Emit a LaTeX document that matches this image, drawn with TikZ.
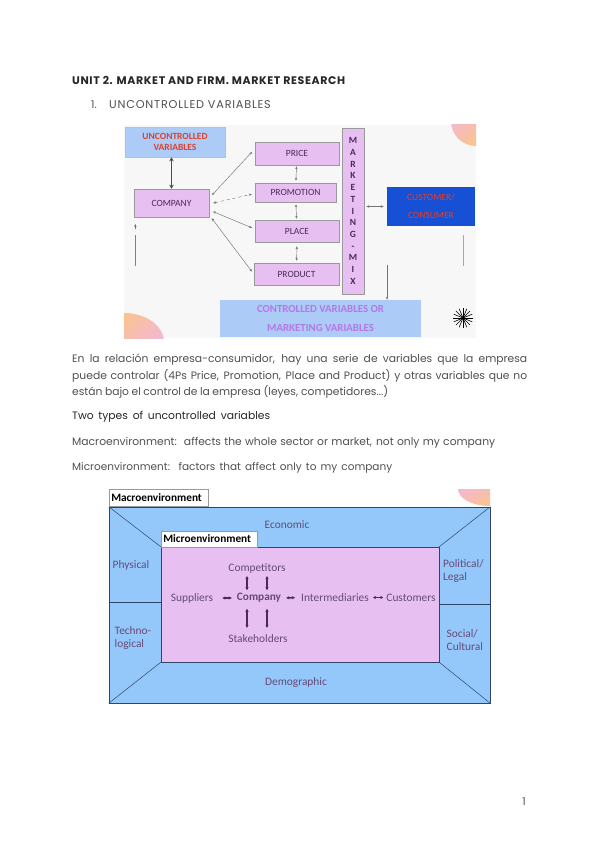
\documentclass[tikz,border=0pt]{standalone}
\usepackage{fontspec}
\setmainfont{Poppins}
\newfontfamily\figfont{Carlito}
\usetikzlibrary{arrows.meta}
\definecolor{txtgray}{HTML}{505050}
\definecolor{boxpink}{HTML}{E7BFF0}
\definecolor{boxblue}{HTML}{ADCBF7}
\definecolor{custblue}{HTML}{1650D4}
\definecolor{macroblue}{HTML}{94C8FB}
\definecolor{edgeblue}{HTML}{2E4468}
\definecolor{inkpurple}{HTML}{4A2A60}
\definecolor{softred}{HTML}{DD4030}
\definecolor{softpurple}{HTML}{B478E4}
\definecolor{blobpink}{HTML}{F4B4E4}
\definecolor{bloborange}{HTML}{FBC878}
\newcommand{\fitline}[2]{\hbox to #1pt{\spaceskip=.05em plus 1fil\relax #2}}

\begin{document}
\begin{tikzpicture}[x=1pt,y=-1pt,>=Stealth,
    bodytext/.style={anchor=west,inner sep=0pt,text=txtgray,font=\fontsize{10.75}{16}\selectfont},
    capstext/.style={bodytext,font=\fontsize{11.3}{14}\selectfont\addfontfeature{LetterSpace=6.8}},
    pbox/.style={draw=black!40,line width=.5pt,fill=boxpink,inner sep=0pt,text=inkpurple,font=\figfont\fontsize{9.5}{11}\selectfont},
    bbox/.style={draw=black!25,line width=.5pt,fill=boxblue,inner sep=0pt,align=center,font=\figfont\bfseries\fontsize{9.5}{11}\selectfont},
    macrotxt/.style={inner sep=0pt,text=inkpurple!85,align=left,font=\figfont\fontsize{11.4}{13}\selectfont},
    tabbox/.style={draw=black!40,line width=.5pt,fill=white,inner sep=0pt,font=\figfont\bfseries\fontsize{11.3}{12}\selectfont},
    thin arrow/.style={<->,black!55,line width=.45pt,>={Stealth[length=3pt,width=2.4pt]}},
    fat arrow/.style={<->,inkpurple,line width=1.5pt,>={Stealth[length=3pt,width=3.2pt]}}]
  \useasboundingbox (0,0) rectangle (600,848);
  \fill[white] (0,0) rectangle (600,848);

  % page text
  \node[bodytext,text=black!85,font=\bfseries\fontsize{11}{14}\selectfont\addfontfeature{LetterSpace=5.6}] (title) at (72,80) {UNIT 2. MARKET AND FIRM. MARKET RESEARCH};
  \node[bodytext] (num) at (91,105) {1.};
  \node[capstext] (sect) at (109,105) {UNCONTROLLED VARIABLES};
  \node[bodytext] (paraone) at (72,360) {\fitline{455}{En la relación empresa-consumidor, hay una serie de variables que la empresa}};
  \node[bodytext] (paratwo) at (72,376) {\fitline{455}{puede controlar (4Ps Price, Promotion, Place and Product) y otras variables que no}};
  \node[bodytext] (parathree) at (72,392) {\fitline{316}{están bajo el control de la empresa (leyes, competidores...)}};
  \node[bodytext,text=black!85] (types) at (72,417) {\fitline{198}{Two types of uncontrolled variables}};
  \node[bodytext] (macrodef) at (72,443) {\fitline{423}{Macroenvironment: affects the whole sector or market, not only my company}};
  \node[bodytext,font=\fontsize{10.5}{16}\selectfont] (microdef) at (72,468) {\fitline{320}{Microenvironment: factors that affect only to my company}};
  \node[bodytext,anchor=center] (pagenum) at (524,802) {1};

  % first figure
  \fill[black!3] (124,125) rectangle (476,338);
  \begin{scope}
    \clip (124,125) rectangle (476,338);
    \shade[top color=blobpink,middle color=blobpink,bottom color=bloborange,shading angle=45] (476,121) circle (25);
    \shade[top color=bloborange,middle color=blobpink,bottom color=blobpink,shading angle=45] (124,342) ellipse (40 and 29);
  \end{scope}
  \node[bbox,minimum width=100pt,minimum height=30pt,text=softred] (uncontrolled) at (175,142) {UNCONTROLLED\\VARIABLES};
  \node[pbox,minimum width=75pt,minimum height=28pt] (company) at (171.5,203) {COMPANY};
  \node[pbox,minimum width=84pt,minimum height=23pt] (price) at (297,153.5) {PRICE};
  \node[pbox,minimum width=81pt,minimum height=19pt] (promotion) at (295.5,192.5) {PROMOTION};
  \node[pbox,minimum width=84pt,minimum height=22pt] (place) at (297,231) {PLACE};
  \node[pbox,minimum width=85pt,minimum height=22pt] (product) at (296.5,274) {PRODUCT};
  \node[pbox,minimum width=22pt,minimum height=166pt,align=center,font=\figfont\bfseries\fontsize{9.5}{11.7}\selectfont] (mix) at (353,211)
    {M\\A\\R\\K\\E\\T\\I\\N\\G\\-\\M\\I\\X};
  \node[bbox,draw=none,fill=custblue,minimum width=88pt,minimum height=39pt,text=softred,font=\figfont\fontsize{9.5}{18}\selectfont] (customer) at (431,206.5) {CUSTOMER/\\CONSUMER};
  \node[bbox,draw=none,minimum width=201pt,minimum height=37pt,text=softpurple,font=\figfont\bfseries\fontsize{10.8}{19}\selectfont] (controlled) at (320.5,318.5) {CONTROLLED VARIABLES OR\\MARKETING VARIABLES};

  \draw[<->,black!70,line width=1.3pt,>={Stealth[length=4pt,width=4.5pt]}] (uncontrolled.south -| company) -- (company);
  \draw[thin arrow,shorten <=4pt,shorten >=4pt] ([yshift=5pt]company.east) -- ([yshift=4.5pt]price.west);
  \draw[thin arrow,dashed,shorten <=4pt,shorten >=3pt] ([yshift=-1pt]company.east) -- ([yshift=-1pt]promotion.west);
  \draw[thin arrow,shorten <=4pt,shorten >=3pt] ([yshift=-7pt]company.east) -- ([yshift=2pt]place.west);
  \draw[thin arrow,shorten <=4pt,shorten >=3pt] ([yshift=-12pt]company.east) -- (product.west);
  \draw[thin arrow,shorten <=1pt,shorten >=2pt] (price) -- (promotion);
  \draw[thin arrow,shorten <=2pt,shorten >=1pt] (promotion) -- (place);
  \draw[thin arrow,shorten <=4pt,shorten >=2pt] (place) -- (product);
  \draw[thin arrow,shorten <=2pt,shorten >=3pt] (mix.east |- customer) -- (customer);

  \coordinate (leftlow) at (135.3,266);
  \coordinate (leftup) at (135.3,235);
  \coordinate (lefttip) at (135.3,224);
  \coordinate (righttop) at (463,235);
  \coordinate (rightlow) at (463,266);
  \coordinate (downtop) at (387,265);
  \draw[black!50,line width=.45pt] (leftlow) -- (leftup);
  \draw[->,black!55,line width=.45pt,>={Stealth[length=3pt,width=2.4pt]}] (135.3,229) -- (lefttip);
  \draw[black!35,line width=.45pt] (righttop) -- (rightlow);
  \draw[->,black!55,line width=.45pt,>={Stealth[length=3pt,width=2.4pt]}] (downtop) -- (controlled.north -| downtop);

  % starburst
  \coordinate (burst) at (463,318);
  \foreach \ang in {0,22.5,...,337.5}
    \draw[black,line width=.6pt] (burst) -- ++(\ang:10);

  % second figure
  \begin{scope}
    \clip (109,489) rectangle (490,507);
    \shade[top color=blobpink,middle color=blobpink,bottom color=bloborange,shading angle=30] (490,489) ellipse (32 and 17);
  \end{scope}
  \node[draw=edgeblue,line width=.6pt,fill=macroblue,minimum width=381pt,minimum height=196pt,inner sep=0pt] (macro) at (299.5,605) {};
  \node[draw=edgeblue,line width=.6pt,fill=boxpink,minimum width=278pt,minimum height=115pt,inner sep=0pt] (micro) at (300,604.5) {};
  \draw[edgeblue,line width=.5pt] (macro.north west) -- (micro.north west);
  \draw[edgeblue,line width=.5pt] (macro.north east) -- (micro.north east);
  \draw[edgeblue,line width=.5pt] (macro.south west) -- (micro.south west);
  \draw[edgeblue,line width=.5pt] (macro.south east) -- (micro.south east);
  \draw[edgeblue,line width=.5pt] (macro.west |- 0,602) -- (micro.west |- 0,602);
  \draw[edgeblue,line width=.5pt] (micro.east |- 0,604) -- (macro.east |- 0,604);
  \node[tabbox,anchor=south west,minimum width=99pt,minimum height=17pt,text width=95pt,align=left] (macrotab) at (109,506.5) {Macroenvironment};
  \node[tabbox,anchor=south west,minimum width=96pt,minimum height=16pt,text width=92pt,align=left] (microtab) at (161,547) {Microenvironment};

  \node[macrotxt] (economic) at (287,525) {Economic};
  \node[macrotxt] (demographic) at (296,683) {Demographic};
  \node[macrotxt] (physical) at (131,565) {Physical};
  \node[macrotxt,anchor=west] (techno) at (114.5,638.5) {Techno-\\logical};
  \node[macrotxt,anchor=west] (political) at (443,571.5) {Political/\\Legal};
  \node[macrotxt,anchor=west] (social) at (446.5,640.5) {Social/\\Cultural};
  \node[macrotxt] (competitors) at (257,568) {Competitors};
  \node[macrotxt,font=\figfont\bfseries\fontsize{11.3}{13}\selectfont] (firm) at (259,598) {Company};
  \node[macrotxt] (suppliers) at (192,598) {Suppliers};
  \node[macrotxt] (intermediaries) at (335,597.5) {Intermediaries};
  \node[macrotxt] (customers) at (411,597.5) {Customers};
  \node[macrotxt] (stakeholders) at (258,639) {Stakeholders};

  \coordinate (vl) at (247,0);
  \coordinate (vr) at (267,0);
  \draw[fat arrow,shorten <=9pt,shorten >=5pt] (suppliers.east) -- (firm.west |- suppliers);
  \draw[fat arrow,shorten <=5pt,shorten >=6pt] (firm.east) -- (intermediaries.west);
  \draw[fat arrow,shorten <=4pt,shorten >=3pt] (intermediaries.east) -- (customers.west);
  \draw[fat arrow,shorten <=3pt,shorten >=3pt] (competitors.south -| vl) -- (firm.north -| vl);
  \draw[fat arrow,shorten <=3pt,shorten >=3pt] (competitors.south -| vr) -- (firm.north -| vr);
  \draw[fat arrow,shorten <=6pt,shorten >=7pt] (firm.south -| vl) -- (stakeholders.north -| vl);
  \draw[fat arrow,shorten <=6pt,shorten >=7pt] (firm.south -| vr) -- (stakeholders.north -| vr);
\end{tikzpicture}
\end{document}
